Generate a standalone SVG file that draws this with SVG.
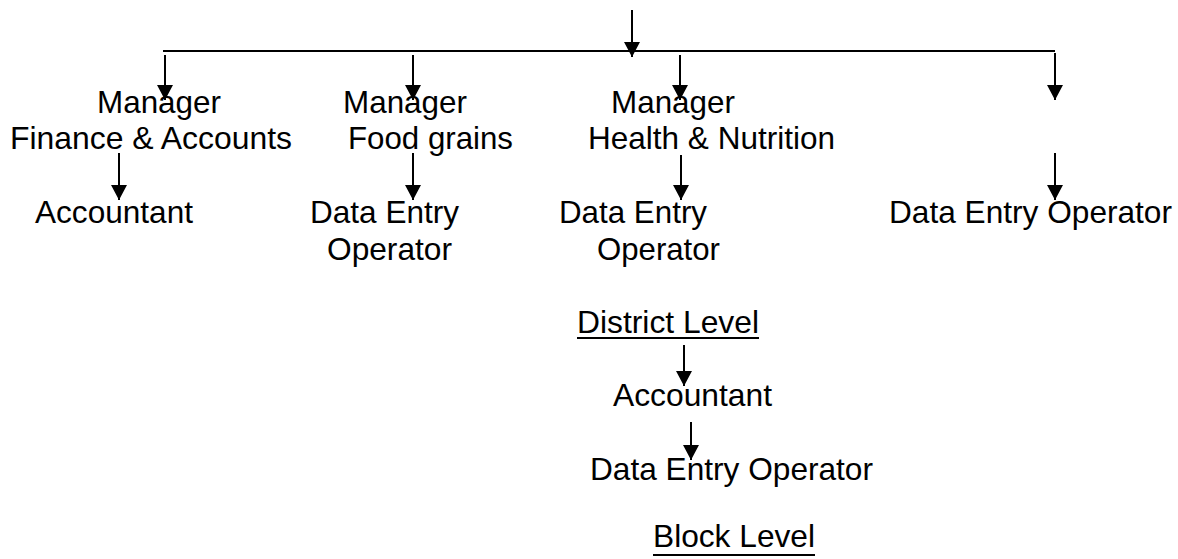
<svg xmlns="http://www.w3.org/2000/svg" width="1178" height="559" viewBox="0 0 1178 559">
<style>
text{font-family:"Liberation Sans",Arial,sans-serif;fill:#000;font-size:31.6px}
.c{stroke:#000;stroke-width:2;fill:none}
.a{marker-end:url(#ah)}
</style>
<defs>
<marker id="ah" markerUnits="userSpaceOnUse" markerWidth="20" markerHeight="20" refX="15" refY="8" orient="auto" overflow="visible">
<path d="M0,0 L15,8 L0,16 z" fill="#000"/>
</marker>
</defs>
<rect width="1178" height="559" fill="#fff"/>
<g id="connectors">
<line class="c a" x1="632" y1="10" x2="632" y2="57"/>
<line class="c" x1="163" y1="51" x2="1055" y2="51"/>
<line class="c a" x1="165" y1="55" x2="165" y2="100"/>
<line class="c a" x1="413" y1="55" x2="413" y2="100"/>
<line class="c a" x1="680" y1="55" x2="680" y2="100"/>
<line class="c a" x1="1055" y1="53" x2="1055" y2="100"/>
<line class="c a" x1="119" y1="153" x2="119" y2="200"/>
<line class="c a" x1="413" y1="153" x2="413" y2="200"/>
<line class="c a" x1="681" y1="155" x2="681" y2="200"/>
<line class="c a" x1="1055" y1="153" x2="1055" y2="200"/>
<line class="c a" x1="684" y1="345" x2="684" y2="386"/>
<line class="c a" x1="691" y1="422" x2="691" y2="460"/>
</g>
<g id="mgr-finance">
<text x="97" y="113" textLength="124" lengthAdjust="spacingAndGlyphs">Manager</text>
<text x="10" y="149" textLength="282" lengthAdjust="spacingAndGlyphs">Finance &amp; Accounts</text>
</g>
<g id="mgr-food">
<text x="343" y="113" textLength="124" lengthAdjust="spacingAndGlyphs">Manager</text>
<text x="348" y="149" textLength="165" lengthAdjust="spacingAndGlyphs">Food grains</text>
</g>
<g id="mgr-health">
<text x="611" y="113" textLength="124" lengthAdjust="spacingAndGlyphs">Manager</text>
<text x="588" y="149" textLength="247" lengthAdjust="spacingAndGlyphs">Health &amp; Nutrition</text>
</g>
<g id="accountant-1">
<text x="35" y="223" textLength="158" lengthAdjust="spacingAndGlyphs">Accountant</text>
</g>
<g id="deo-food">
<text x="310" y="223" textLength="149" lengthAdjust="spacingAndGlyphs">Data Entry</text>
<text x="327" y="260" textLength="125" lengthAdjust="spacingAndGlyphs">Operator</text>
</g>
<g id="deo-health">
<text x="559" y="223" textLength="148" lengthAdjust="spacingAndGlyphs">Data Entry</text>
<text x="597" y="260" textLength="123" lengthAdjust="spacingAndGlyphs">Operator</text>
</g>
<g id="deo-4">
<text x="889" y="223" textLength="283" lengthAdjust="spacingAndGlyphs">Data Entry Operator</text>
</g>
<g id="district-level">
<text x="577" y="333" textLength="182" lengthAdjust="spacingAndGlyphs">District Level</text>
<line class="c" x1="577" y1="338" x2="759" y2="338"/>
</g>
<g id="accountant-district">
<text x="613" y="406" textLength="159" lengthAdjust="spacingAndGlyphs">Accountant</text>
</g>
<g id="deo-district">
<text x="590" y="480" textLength="283" lengthAdjust="spacingAndGlyphs">Data Entry Operator</text>
</g>
<g id="block-level">
<text x="653" y="547" textLength="162" lengthAdjust="spacingAndGlyphs">Block Level</text>
<line class="c" x1="653" y1="555" x2="815" y2="555"/>
</g>
</svg>
